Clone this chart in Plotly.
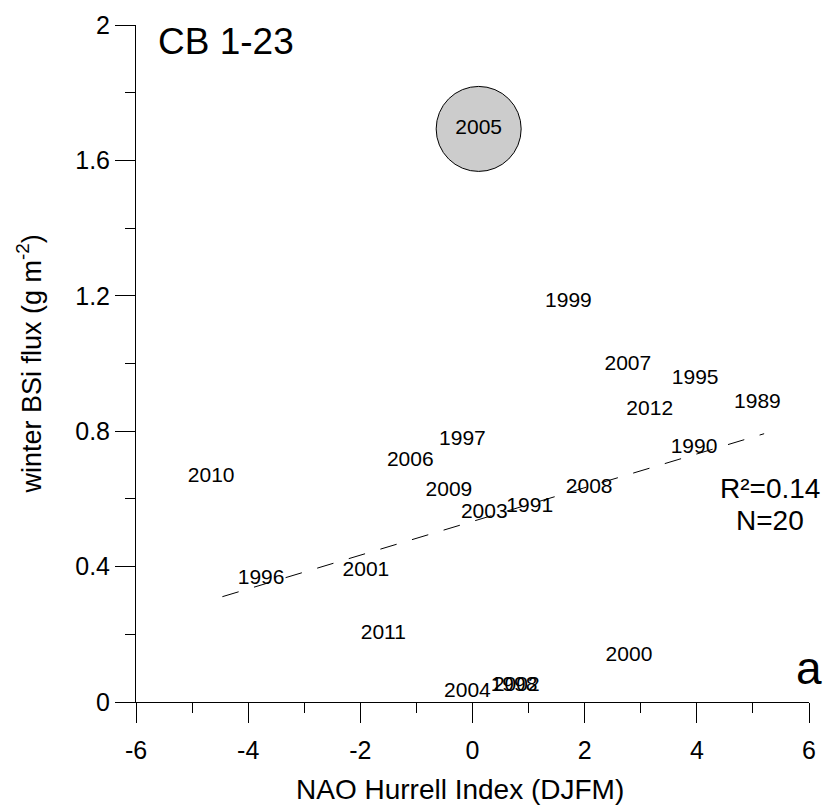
import numpy as np
import plotly.graph_objects as go

# NAO Hurrell index (DJFM) and winter BSi flux per year, core CB 1-23
years = ["2010", "1996", "1997", "2006", "2009", "2003", "1991", "2008", "1999", "2007",
         "1995", "2012", "1989", "1990", "2001", "2011", "2000", "2004", "1998", "2002"]
nao = [-4.66, -3.77, -0.18, -1.11, -0.42, 0.21, 1.02, 2.08, 1.71, 2.77,
       3.97, 3.16, 5.08, 3.95, -1.90, -1.59, 2.79, -0.09, 0.74, 0.78]
bsi_flux = [0.665, 0.363, 0.776, 0.714, 0.624, 0.559, 0.577, 0.633, 1.183, 0.996,
            0.955, 0.864, 0.884, 0.750, 0.387, 0.202, 0.138, 0.029, 0.047, 0.047]

# Outlier year, excluded from the regression
outlier_year = ["2005"]
outlier_nao = [0.11]
outlier_flux = [1.693]

# x-extent of the drawn regression line
fit_x_range = [-4.46, 5.20]

x_ticks = [-6, -4, -2, 0, 2, 4, 6]
x_tick_text = ["-6", "-4", "-2", "0", "2", "4", "6"]
y_ticks = [0, 0.4, 0.8, 1.2, 1.6, 2]
y_tick_text = ["0", "0.4", "0.8", "1.2", "1.6", "2"]

FONT = "Liberation Sans, Arial, sans-serif"

# Least-squares fit over the 20 regular years
xa = np.array(nao)
ya = np.array(bsi_flux)
slope, intercept = np.polyfit(xa, ya, 1)
r2 = np.corrcoef(xa, ya)[0, 1] ** 2
fit_x = np.array(fit_x_range)
fit_y = intercept + slope * fit_x

fig = go.Figure()

fig.add_trace(go.Scatter(
    x=fit_x, y=fit_y, mode="lines",
    line=dict(color="black", width=1, dash="17px,16px"),
    hoverinfo="skip", showlegend=False,
))

fig.add_trace(go.Scatter(
    x=outlier_nao, y=outlier_flux, mode="markers+text",
    text=outlier_year, textposition="middle center",
    textfont=dict(family=FONT, size=21, color="black"),
    marker=dict(size=85, color="#cccccc", line=dict(color="black", width=1)),
    showlegend=False,
))

fig.add_trace(go.Scatter(
    x=nao, y=bsi_flux, mode="text",
    text=years, textposition="middle center",
    textfont=dict(family=FONT, size=21, color="black"),
    showlegend=False,
))

axis_common = dict(
    showgrid=False, zeroline=False, showline=True,
    linecolor="black", linewidth=1,
    ticks="outside", tickcolor="black", tickwidth=1, ticklen=20,
    tickfont=dict(family=FONT, size=25, color="black"),
)

fig.update_xaxes(
    range=[-6, 6], tickvals=x_ticks, ticktext=x_tick_text, ticklabelstandoff=6,
    minor=dict(ticks="outside", ticklen=10, tickcolor="black", tickwidth=1, dtick=1, tick0=-6, showgrid=False),
    **axis_common,
)
fig.update_yaxes(
    range=[0, 2], tickvals=y_ticks, ticktext=y_tick_text,
    minor=dict(ticks="outside", ticklen=10, tickcolor="black", tickwidth=1, dtick=0.2, tick0=0, showgrid=False),
    **axis_common,
)

annotations = [
    dict(text="CB 1-23", xref="paper", yref="paper", x=0.029, y=0.975,
         xanchor="left", yanchor="middle", showarrow=False,
         font=dict(family=FONT, size=37, color="black")),
    dict(text=f"R²={r2:.2f}", xref="x", yref="y", x=5.31, y=0.632,
         xanchor="center", yanchor="middle", showarrow=False,
         font=dict(family=FONT, size=28, color="black")),
    dict(text=f"N={len(years)}", xref="x", yref="y", x=5.31, y=0.536,
         xanchor="center", yanchor="middle", showarrow=False,
         font=dict(family=FONT, size=28, color="black")),
    dict(text="a", xref="x", yref="y", x=6.0, y=0.10,
         xanchor="center", yanchor="middle", showarrow=False,
         font=dict(family=FONT, size=46, color="black")),
    dict(text="NAO Hurrell Index (DJFM)", xref="paper", yref="paper", x=0.482, y=-0.129,
         xanchor="center", yanchor="middle", showarrow=False,
         font=dict(family=FONT, size=28, color="black")),
    dict(text="winter BSi flux (g m<sup>-2</sup>)", xref="paper", yref="paper", x=-0.159, y=0.5,
         xanchor="center", yanchor="middle", showarrow=False, textangle=-90,
         font=dict(family=FONT, size=27, color="black")),
]

fig.update_layout(
    width=827, height=808,
    margin=dict(l=136, r=11, t=19, b=106),
    paper_bgcolor="white", plot_bgcolor="white",
    annotations=annotations,
    showlegend=False,
)

fig.write_html("out.html")
